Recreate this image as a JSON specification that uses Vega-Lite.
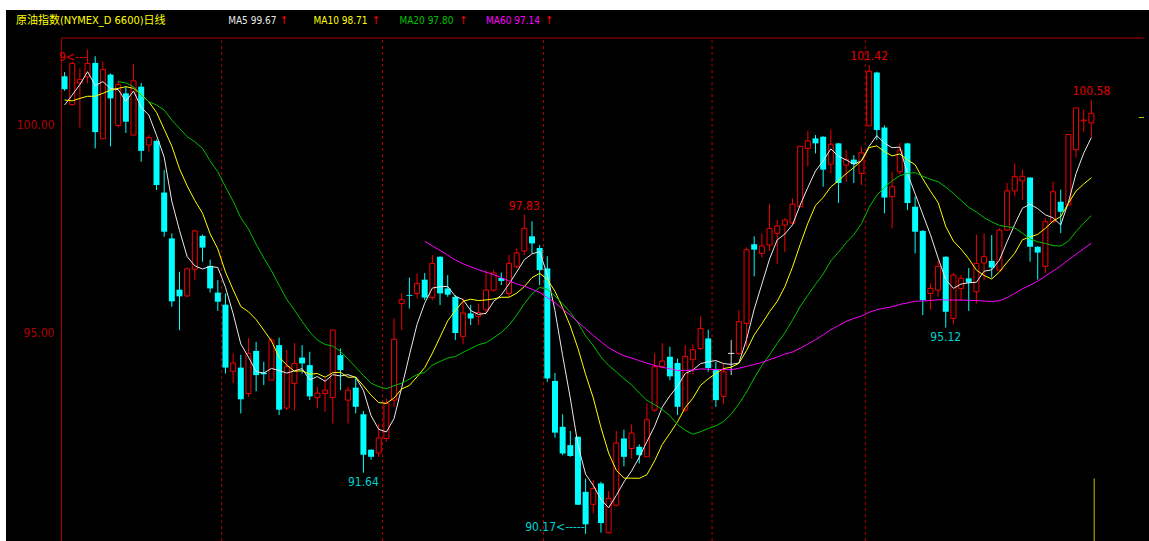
{
  "$schema": "https://vega.github.io/schema/vega-lite/v6.json",
  "width": 1143,
  "height": 531,
  "padding": {"left": 6, "top": 10, "right": 0, "bottom": 0},
  "autosize": {"type": "none"},
  "background": "white",
  "config": {
    "view": {"fill": "black", "stroke": null},
    "text": {"font": "Liberation Sans Narrow, DejaVu Sans Condensed, Noto Sans CJK SC, sans-serif"}
  },
  "datasets": {
    "candles": [
      {"i":0,"o":101.15,"h":101.25,"l":100.80,"c":100.84},
      {"i":1,"o":100.47,"h":101.50,"l":100.45,"c":101.46},
      {"i":2,"o":100.99,"h":101.34,"l":99.92,"c":101.07},
      {"i":3,"o":101.14,"h":101.79,"l":100.98,"c":101.46},
      {"i":4,"o":101.47,"h":101.63,"l":99.42,"c":99.81},
      {"i":5,"o":99.65,"h":101.50,"l":99.65,"c":101.31},
      {"i":6,"o":101.19,"h":101.22,"l":99.47,"c":100.62},
      {"i":7,"o":99.97,"h":101.04,"l":99.92,"c":100.95},
      {"i":8,"o":100.74,"h":100.90,"l":99.79,"c":100.06},
      {"i":9,"o":99.74,"h":101.44,"l":99.74,"c":101.04},
      {"i":10,"o":100.90,"h":100.99,"l":99.10,"c":99.36},
      {"i":11,"o":99.50,"h":99.74,"l":99.34,"c":99.68},
      {"i":12,"o":99.60,"h":99.63,"l":98.42,"c":98.54},
      {"i":13,"o":98.36,"h":98.90,"l":97.30,"c":97.42},
      {"i":14,"o":97.26,"h":97.38,"l":95.62,"c":95.75},
      {"i":15,"o":96.03,"h":96.46,"l":95.06,"c":95.87},
      {"i":16,"o":95.88,"h":96.56,"l":95.85,"c":96.53},
      {"i":17,"o":96.52,"h":97.47,"l":96.27,"c":97.44},
      {"i":18,"o":97.32,"h":97.35,"l":96.70,"c":97.04},
      {"i":19,"o":96.60,"h":96.75,"l":95.96,"c":96.06},
      {"i":20,"o":95.96,"h":96.26,"l":95.52,"c":95.74},
      {"i":21,"o":95.67,"h":95.94,"l":94.02,"c":94.16},
      {"i":22,"o":94.07,"h":94.50,"l":93.79,"c":94.27},
      {"i":23,"o":94.16,"h":94.47,"l":93.06,"c":93.40},
      {"i":24,"o":93.54,"h":94.87,"l":93.46,"c":94.50},
      {"i":25,"o":94.56,"h":94.78,"l":93.59,"c":93.98},
      {"i":26,"o":94.04,"h":94.30,"l":93.74,"c":94.00},
      {"i":27,"o":93.86,"h":94.86,"l":93.86,"c":94.82},
      {"i":28,"o":94.70,"h":94.88,"l":93.02,"c":93.15},
      {"i":29,"o":93.19,"h":94.59,"l":93.14,"c":94.19},
      {"i":30,"o":93.78,"h":94.75,"l":93.14,"c":94.26},
      {"i":31,"o":94.40,"h":94.70,"l":94.02,"c":94.26},
      {"i":32,"o":94.22,"h":94.54,"l":93.38,"c":93.47},
      {"i":33,"o":93.44,"h":93.70,"l":93.18,"c":93.55},
      {"i":34,"o":93.54,"h":93.90,"l":93.10,"c":93.62},
      {"i":35,"o":93.44,"h":95.07,"l":92.82,"c":95.06},
      {"i":36,"o":94.46,"h":94.62,"l":93.62,"c":94.10},
      {"i":37,"o":93.38,"h":93.70,"l":92.82,"c":93.62},
      {"i":38,"o":93.68,"h":93.92,"l":93.06,"c":93.22},
      {"i":39,"o":93.04,"h":93.12,"l":91.64,"c":92.07},
      {"i":40,"o":92.19,"h":92.20,"l":91.95,"c":92.02},
      {"i":41,"o":92.11,"h":92.82,"l":92.02,"c":92.47},
      {"i":42,"o":92.46,"h":93.42,"l":92.38,"c":93.30},
      {"i":43,"o":93.38,"h":95.34,"l":93.22,"c":94.84},
      {"i":44,"o":95.70,"h":95.94,"l":95.06,"c":95.79},
      {"i":45,"o":95.90,"h":96.32,"l":95.58,"c":95.88},
      {"i":46,"o":95.94,"h":96.42,"l":95.82,"c":96.18},
      {"i":47,"o":96.27,"h":96.43,"l":95.78,"c":95.84},
      {"i":48,"o":95.84,"h":96.86,"l":95.78,"c":96.66},
      {"i":49,"o":96.82,"h":96.83,"l":95.66,"c":95.94},
      {"i":50,"o":96.06,"h":96.38,"l":95.86,"c":95.91},
      {"i":51,"o":95.86,"h":95.90,"l":94.82,"c":94.99},
      {"i":52,"o":94.91,"h":95.82,"l":94.72,"c":95.47},
      {"i":53,"o":95.46,"h":95.66,"l":95.18,"c":95.34},
      {"i":54,"o":95.39,"h":95.70,"l":95.18,"c":95.48},
      {"i":55,"o":95.55,"h":96.50,"l":95.47,"c":96.02},
      {"i":56,"o":96.02,"h":96.51,"l":95.98,"c":96.43},
      {"i":57,"o":96.31,"h":96.44,"l":96.14,"c":96.24},
      {"i":58,"o":95.94,"h":96.86,"l":95.86,"c":96.66},
      {"i":59,"o":96.58,"h":97.02,"l":96.54,"c":96.91},
      {"i":60,"o":96.96,"h":97.83,"l":96.86,"c":97.50},
      {"i":61,"o":97.31,"h":97.67,"l":96.90,"c":97.14},
      {"i":62,"o":97.03,"h":97.10,"l":96.14,"c":96.50},
      {"i":63,"o":96.54,"h":96.83,"l":93.82,"c":93.90},
      {"i":64,"o":93.84,"h":94.03,"l":92.48,"c":92.60},
      {"i":65,"o":92.74,"h":93.04,"l":92.06,"c":92.10},
      {"i":66,"o":92.30,"h":92.64,"l":92.02,"c":92.04},
      {"i":67,"o":92.50,"h":92.51,"l":90.86,"c":90.87},
      {"i":68,"o":91.18,"h":91.50,"l":90.17,"c":90.40},
      {"i":69,"o":90.88,"h":91.47,"l":90.66,"c":91.26},
      {"i":70,"o":91.38,"h":91.42,"l":90.20,"c":90.43},
      {"i":71,"o":90.20,"h":91.20,"l":90.18,"c":91.02},
      {"i":72,"o":90.86,"h":92.64,"l":90.83,"c":92.35},
      {"i":73,"o":92.46,"h":92.67,"l":91.79,"c":92.02},
      {"i":74,"o":92.22,"h":92.80,"l":91.98,"c":92.59},
      {"i":75,"o":92.26,"h":92.32,"l":91.86,"c":92.06},
      {"i":76,"o":92.02,"h":93.30,"l":92.02,"c":92.91},
      {"i":77,"o":93.14,"h":94.50,"l":93.10,"c":94.18},
      {"i":78,"o":94.19,"h":94.75,"l":94.14,"c":94.32},
      {"i":79,"o":94.42,"h":94.66,"l":93.86,"c":93.95},
      {"i":80,"o":94.27,"h":94.38,"l":93.02,"c":93.22},
      {"i":81,"o":93.14,"h":94.70,"l":93.10,"c":94.43},
      {"i":82,"o":94.35,"h":94.72,"l":94.00,"c":94.59},
      {"i":83,"o":94.62,"h":95.39,"l":94.58,"c":95.10},
      {"i":84,"o":94.86,"h":95.07,"l":94.06,"c":94.15},
      {"i":85,"o":94.10,"h":94.30,"l":93.22,"c":93.38},
      {"i":86,"o":93.47,"h":94.26,"l":93.28,"c":94.06},
      {"i":87,"o":94.50,"h":94.82,"l":93.98,"c":94.50},
      {"i":88,"o":94.50,"h":95.54,"l":94.46,"c":95.26},
      {"i":89,"o":95.22,"h":97.04,"l":94.67,"c":96.99},
      {"i":90,"o":97.12,"h":97.31,"l":96.35,"c":96.99},
      {"i":91,"o":96.90,"h":97.38,"l":96.80,"c":97.08},
      {"i":92,"o":97.10,"h":98.08,"l":96.96,"c":97.50},
      {"i":93,"o":97.38,"h":97.70,"l":96.64,"c":97.56},
      {"i":94,"o":97.58,"h":97.75,"l":96.94,"c":97.70},
      {"i":95,"o":97.63,"h":98.22,"l":97.60,"c":98.08},
      {"i":96,"o":98.02,"h":99.47,"l":98.02,"c":99.47},
      {"i":97,"o":99.42,"h":99.84,"l":98.99,"c":99.60},
      {"i":98,"o":99.66,"h":99.74,"l":99.30,"c":99.54},
      {"i":99,"o":99.70,"h":99.71,"l":98.50,"c":98.91},
      {"i":100,"o":99.04,"h":99.87,"l":98.82,"c":99.52},
      {"i":101,"o":99.54,"h":99.55,"l":98.11,"c":98.59},
      {"i":102,"o":99.02,"h":99.38,"l":98.62,"c":99.15},
      {"i":103,"o":99.15,"h":99.26,"l":98.59,"c":99.04},
      {"i":104,"o":98.82,"h":99.46,"l":98.54,"c":99.31},
      {"i":105,"o":99.96,"h":101.42,"l":99.96,"c":101.27},
      {"i":106,"o":101.24,"h":101.26,"l":99.62,"c":99.86},
      {"i":107,"o":99.92,"h":99.97,"l":97.86,"c":98.24},
      {"i":108,"o":98.26,"h":98.86,"l":97.50,"c":98.50},
      {"i":109,"o":98.86,"h":99.54,"l":98.80,"c":99.38},
      {"i":110,"o":99.54,"h":99.55,"l":97.94,"c":98.11},
      {"i":111,"o":98.02,"h":98.26,"l":96.90,"c":97.42},
      {"i":112,"o":97.44,"h":97.46,"l":95.42,"c":95.78},
      {"i":113,"o":95.94,"h":96.18,"l":95.55,"c":96.06},
      {"i":114,"o":96.02,"h":96.74,"l":95.86,"c":96.59},
      {"i":115,"o":96.82,"h":96.83,"l":95.12,"c":95.50},
      {"i":116,"o":95.34,"h":96.43,"l":95.20,"c":96.38},
      {"i":117,"o":96.06,"h":96.38,"l":95.78,"c":96.30},
      {"i":118,"o":96.30,"h":96.55,"l":95.52,"c":96.20},
      {"i":119,"o":95.98,"h":97.35,"l":95.70,"c":96.66},
      {"i":120,"o":96.67,"h":97.38,"l":96.26,"c":96.82},
      {"i":121,"o":96.72,"h":97.34,"l":96.32,"c":96.56},
      {"i":122,"o":96.50,"h":97.50,"l":96.50,"c":97.46},
      {"i":123,"o":97.46,"h":98.59,"l":97.46,"c":98.40},
      {"i":124,"o":98.40,"h":99.06,"l":98.27,"c":98.74},
      {"i":125,"o":98.64,"h":98.91,"l":98.18,"c":98.75},
      {"i":126,"o":98.72,"h":98.72,"l":96.70,"c":97.06},
      {"i":127,"o":97.06,"h":97.07,"l":96.27,"c":96.92},
      {"i":128,"o":96.59,"h":97.74,"l":96.43,"c":97.66},
      {"i":129,"o":97.66,"h":98.62,"l":97.63,"c":98.38},
      {"i":130,"o":98.14,"h":98.43,"l":97.39,"c":97.90},
      {"i":131,"o":98.06,"h":99.75,"l":98.06,"c":99.75},
      {"i":132,"o":99.39,"h":100.39,"l":99.20,"c":100.39},
      {"i":133,"o":100.08,"h":100.35,"l":99.82,"c":100.10},
      {"i":134,"o":100.03,"h":100.58,"l":99.68,"c":100.26}
    ],
    "maStart": [
      {"i":0,"s":"MA5","v":100.46},{"i":1,"s":"MA5","v":100.70},{"i":2,"s":"MA5","v":100.95},{"i":3,"s":"MA5","v":101.26},{"i":4,"s":"MA5","v":100.93},
      {"i":0,"s":"MA10","v":100.58},{"i":1,"s":"MA10","v":100.56},{"i":2,"s":"MA10","v":100.62},{"i":3,"s":"MA10","v":100.67},{"i":4,"s":"MA10","v":100.67},
      {"i":5,"s":"MA10","v":100.74},{"i":6,"s":"MA10","v":100.82},{"i":7,"s":"MA10","v":100.86},{"i":8,"s":"MA10","v":100.90},{"i":9,"s":"MA10","v":100.86},
      {"i":7,"s":"MA20","v":101.02},{"i":8,"s":"MA20","v":100.99},{"i":9,"s":"MA20","v":100.90},{"i":10,"s":"MA20","v":100.70},{"i":11,"s":"MA20","v":100.54},
      {"i":12,"s":"MA20","v":100.46},{"i":13,"s":"MA20","v":100.34},{"i":14,"s":"MA20","v":100.10},{"i":15,"s":"MA20","v":99.90},{"i":16,"s":"MA20","v":99.70},
      {"i":17,"s":"MA20","v":99.58},{"i":18,"s":"MA20","v":99.42},{"i":19,"s":"MA20","v":99.12},
      {"i":47,"s":"MA60","v":97.19},{"i":48,"s":"MA60","v":97.08},{"i":49,"s":"MA60","v":96.97},{"i":50,"s":"MA60","v":96.86},{"i":51,"s":"MA60","v":96.74},
      {"i":52,"s":"MA60","v":96.65},{"i":53,"s":"MA60","v":96.58},{"i":54,"s":"MA60","v":96.51},{"i":55,"s":"MA60","v":96.45},{"i":56,"s":"MA60","v":96.39},
      {"i":57,"s":"MA60","v":96.32},{"i":58,"s":"MA60","v":96.24},{"i":59,"s":"MA60","v":96.17}
    ],
    "ticks": [{"v": 95}, {"v": 100}],
    "months": [{"b": 20.5}, {"b": 41.5}, {"b": 62.5}, {"b": 84.5}, {"b": 104.5}]
  },
  "encoding": {
    "x": {"field": "i", "type": "quantitative", "scale": {"domain": [-6.99, 140.87], "nice": false, "zero": false}, "axis": null}
  },
  "layer": [
    {
      "data": {"name": "ticks"},
      "mark": {"type": "rule", "color": "#b00000", "strokeDash": [3, 3], "strokeWidth": 1},
      "encoding": {
        "x": {"datum": -0.39},
        "x2": {"datum": 140.87},
        "y": {"field": "v", "type": "quantitative", "scale": {"domain": [90, 102.74], "nice": false, "zero": false},
          "axis": {"title": null, "values": [95, 100], "format": ".2f", "offset": -51, "domain": false, "ticks": false, "grid": false,
            "labelColor": "#b00000", "labelFont": "Liberation Sans Narrow, DejaVu Sans Condensed, sans-serif", "labelFontSize": 12, "labelPadding": 3}}
      }
    },
    {
      "data": {"name": "months"},
      "mark": {"type": "rule", "color": "#b00000", "strokeDash": [3, 3], "strokeWidth": 1},
      "encoding": {
        "x": {"field": "b", "type": "quantitative"},
        "y": {"datum": 90},
        "y2": {"datum": 102.068}
      }
    },
    {
      "data": {"name": "candles"},
      "transform": [{"filter": "datum.i == 0"}],
      "mark": {"type": "rule", "color": "#b00000", "strokeWidth": 1},
      "encoding": {"x": {"datum": -0.39}, "y": {"datum": 90}, "y2": {"datum": 102.068}}
    },
    {
      "data": {"name": "candles"},
      "transform": [{"filter": "datum.i == 0"}],
      "mark": {"type": "rule", "color": "#b00000", "strokeWidth": 1},
      "encoding": {"x": {"datum": -0.39}, "x2": {"datum": 140.87}, "y": {"datum": 102.068}}
    },
    {
      "data": {"name": "candles"},
      "transform": [{"filter": "datum.c > datum.o"}],
      "mark": {"type": "rule", "color": "#f00000", "strokeWidth": 1},
      "encoding": {"y": {"field": "l", "type": "quantitative"}, "y2": {"field": "h"}}
    },
    {
      "data": {"name": "candles"},
      "transform": [{"filter": "datum.c < datum.o"}],
      "mark": {"type": "rule", "color": "#00ffff", "strokeWidth": 1},
      "encoding": {"y": {"field": "l", "type": "quantitative"}, "y2": {"field": "h"}}
    },
    {
      "data": {"name": "candles"},
      "transform": [{"filter": "datum.c == datum.o"}],
      "mark": {"type": "rule", "color": "#d0d0d0", "strokeWidth": 1},
      "encoding": {"y": {"field": "l", "type": "quantitative"}, "y2": {"field": "h"}}
    },
    {
      "data": {"name": "candles"},
      "transform": [{"filter": "datum.c > datum.o"}],
      "mark": {"type": "bar", "size": 5, "fill": "black", "stroke": "#f00000", "strokeWidth": 1},
      "encoding": {"y": {"field": "o", "type": "quantitative"}, "y2": {"field": "c"}}
    },
    {
      "data": {"name": "candles"},
      "transform": [{"filter": "datum.c < datum.o"}],
      "mark": {"type": "bar", "size": 6, "fill": "#00ffff"},
      "encoding": {"y": {"field": "o", "type": "quantitative"}, "y2": {"field": "c"}}
    },
    {
      "data": {"name": "candles"},
      "transform": [{"filter": "datum.c == datum.o"}],
      "mark": {"type": "bar", "size": 6, "fill": "#d0d0d0", "stroke": "#d0d0d0", "strokeWidth": 1},
      "encoding": {"y": {"field": "o", "type": "quantitative"}, "y2": {"field": "c"}}
    },
    {
      "data": {"name": "candles"},
      "transform": [
        {"window": [{"op": "mean", "field": "c", "as": "MA5"}], "frame": [-4, 0], "sort": [{"field": "i"}]},
        {"window": [{"op": "mean", "field": "c", "as": "MA10"}], "frame": [-9, 0], "sort": [{"field": "i"}]},
        {"window": [{"op": "mean", "field": "c", "as": "MA20"}], "frame": [-19, 0], "sort": [{"field": "i"}]},
        {"window": [{"op": "mean", "field": "c", "as": "MA60"}], "frame": [-59, 0], "sort": [{"field": "i"}]},
        {"fold": ["MA5", "MA10", "MA20", "MA60"], "as": ["s", "v"]},
        {"filter": "(datum.s == 'MA5' && datum.i >= 4) || (datum.s == 'MA10' && datum.i >= 9) || (datum.s == 'MA20' && datum.i >= 19) || (datum.s == 'MA60' && datum.i >= 59)"}
      ],
      "mark": {"type": "line", "strokeWidth": 1},
      "encoding": {
        "y": {"field": "v", "type": "quantitative"},
        "color": {"field": "s", "type": "nominal", "scale": {"domain": ["MA5", "MA10", "MA20", "MA60"], "range": ["#e8e8e8", "#ffff00", "#00c000", "#ff00ff"]}, "legend": null}
      }
    },
    {
      "data": {"name": "maStart"},
      "mark": {"type": "line", "strokeWidth": 1},
      "encoding": {
        "y": {"field": "v", "type": "quantitative"},
        "color": {"field": "s", "type": "nominal", "scale": {"domain": ["MA5", "MA10", "MA20", "MA60"], "range": ["#e8e8e8", "#ffff00", "#00c000", "#ff00ff"]}, "legend": null}
      }
    },
    {
      "data": {"name": "candles"},
      "transform": [{"filter": "datum.i == 60 || datum.i == 105 || datum.i == 134"}],
      "mark": {"type": "text", "color": "#e00000", "fontSize": 12, "baseline": "alphabetic", "align": "center", "dy": -5},
      "encoding": {"y": {"field": "h", "type": "quantitative"}, "text": {"field": "h", "type": "quantitative", "format": ".2f"}}
    },
    {
      "data": {"name": "candles"},
      "transform": [{"filter": "datum.i == 39 || datum.i == 115"}],
      "mark": {"type": "text", "color": "#00d0d0", "fontSize": 12, "baseline": "top", "align": "center", "dy": 4},
      "encoding": {"y": {"field": "l", "type": "quantitative"}, "text": {"field": "l", "type": "quantitative", "format": ".2f"}}
    },
    {
      "data": {"name": "candles"},
      "transform": [{"filter": "datum.i == 68"}],
      "mark": {"type": "text", "color": "#00d0d0", "fontSize": 12, "baseline": "bottom", "align": "right", "dx": -1},
      "encoding": {"y": {"field": "l", "type": "quantitative"}, "text": {"value": "90.17<-----"}}
    },
    {
      "data": {"name": "candles"},
      "transform": [{"filter": "datum.i == 3"}],
      "mark": {"type": "text", "color": "#e00000", "fontSize": 12, "baseline": "top", "align": "right", "dx": -1, "dy": 2},
      "encoding": {"y": {"field": "h", "type": "quantitative"}, "text": {"value": "9<---"}}
    },
    {
      "data": {"name": "candles"},
      "transform": [{"filter": "datum.i == 134"}],
      "mark": {"type": "rule", "color": "#c8c800", "strokeWidth": 1},
      "encoding": {"x": {"datum": 134.37}, "y": {"datum": 91.5}, "y2": {"datum": 90}}
    },
    {
      "data": {"name": "candles"},
      "transform": [{"filter": "datum.i == 134"}],
      "mark": {"type": "rule", "color": "#c8c800", "strokeWidth": 1},
      "encoding": {"x": {"datum": 140.2}, "x2": {"datum": 140.87}, "y": {"datum": 100.16}}
    },
    {
      "data": {"name": "candles"},
      "transform": [{"filter": "datum.i == 0"}],
      "mark": {"type": "text", "color": "#ffff00", "fontSize": 11, "align": "left", "baseline": "middle"},
      "encoding": {"x": {"datum": -6.34}, "y": {"datum": 102.48}, "text": {"value": "原油指数(NYMEX_D 6600)日线"}}
    },
    {
      "data": {"name": "candles"},
      "transform": [{"filter": "datum.i == 0"}],
      "mark": {"type": "text", "color": "#e8e8e8", "fontSize": 10, "align": "left", "baseline": "middle"},
      "encoding": {"x": {"datum": 21.35}, "y": {"datum": 102.48}, "text": {"value": "MA5 99.67"}}
    },
    {
      "data": {"name": "candles"},
      "transform": [{"filter": "datum.i == 0"}],
      "mark": {"type": "text", "color": "#ffff00", "fontSize": 10, "align": "left", "baseline": "middle"},
      "encoding": {"x": {"datum": 32.5}, "y": {"datum": 102.48}, "text": {"value": "MA10 98.71"}}
    },
    {
      "data": {"name": "candles"},
      "transform": [{"filter": "datum.i == 0"}],
      "mark": {"type": "text", "color": "#00c000", "fontSize": 10, "align": "left", "baseline": "middle"},
      "encoding": {"x": {"datum": 43.7}, "y": {"datum": 102.48}, "text": {"value": "MA20 97.80"}}
    },
    {
      "data": {"name": "candles"},
      "transform": [{"filter": "datum.i == 0"}],
      "mark": {"type": "text", "color": "#ff00ff", "fontSize": 10, "align": "left", "baseline": "middle"},
      "encoding": {"x": {"datum": 55.0}, "y": {"datum": 102.48}, "text": {"value": "MA60 97.14"}}
    },
    {
      "data": {"name": "candles"},
      "transform": [{"filter": "datum.i == 0"}],
      "mark": {"type": "text", "color": "#ff0000", "fontSize": 11, "align": "center", "baseline": "middle"},
      "encoding": {"x": {"datum": 28.6}, "y": {"datum": 102.48}, "text": {"value": "↑"}}
    },
    {
      "data": {"name": "candles"},
      "transform": [{"filter": "datum.i == 0"}],
      "mark": {"type": "text", "color": "#ff0000", "fontSize": 11, "align": "center", "baseline": "middle"},
      "encoding": {"x": {"datum": 40.6}, "y": {"datum": 102.48}, "text": {"value": "↑"}}
    },
    {
      "data": {"name": "candles"},
      "transform": [{"filter": "datum.i == 0"}],
      "mark": {"type": "text", "color": "#ff0000", "fontSize": 11, "align": "center", "baseline": "middle"},
      "encoding": {"x": {"datum": 52.0}, "y": {"datum": 102.48}, "text": {"value": "↑"}}
    },
    {
      "data": {"name": "candles"},
      "transform": [{"filter": "datum.i == 0"}],
      "mark": {"type": "text", "color": "#ff0000", "fontSize": 11, "align": "center", "baseline": "middle"},
      "encoding": {"x": {"datum": 63.2}, "y": {"datum": 102.48}, "text": {"value": "↑"}}
    }
  ]
}
